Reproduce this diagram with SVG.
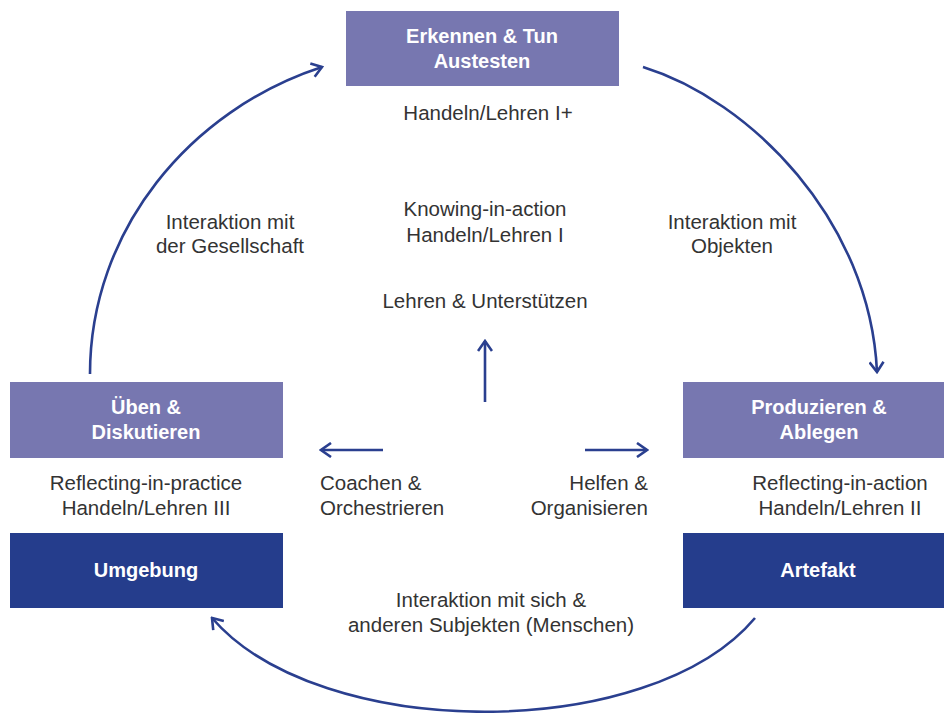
<svg xmlns="http://www.w3.org/2000/svg" width="944" height="713" viewBox="0 0 944 713">
<style>
.lp{fill:#7777b0}
.dk{fill:#253d8c}
.bt{font-family:"Liberation Sans",Arial,sans-serif;font-size:20px;fill:#fff;text-anchor:middle;font-weight:bold}
.t{font-family:"Liberation Sans",Arial,sans-serif;font-size:20.5px;fill:#333;text-anchor:middle}
.c{fill:none;stroke:#2a3f8f;stroke-width:2.6;marker-end:url(#ah)}
</style>
<defs>
<marker id="ah" viewBox="-12 -8 14 16" refX="0" refY="0" markerWidth="14" markerHeight="16" markerUnits="userSpaceOnUse" orient="auto">
<path d="M-10,-7 L0,0 L-10,7" fill="none" stroke="#2a3f8f" stroke-width="2.6"/>
</marker>
</defs>
<g id="connectors">
<path class="c" d="M90,374 C90,230 190,110 322,67"/>
<path class="c" d="M643,67 C750,100 870,220 877,372"/>
<path class="c" d="M755,618 C650,743 320,743 212,618"/>
<path class="c" d="M485,402 L485,341"/>
<path class="c" d="M383,450 L321,450"/>
<path class="c" d="M585,450 L647,450"/>
</g>
<g id="top">
<rect class="lp" x="346" y="11" width="273" height="75"/>
<text class="bt" x="482" y="43">Erkennen &amp; Tun</text>
<text class="bt" x="482" y="68">Austesten</text>
<text class="t" x="488" y="120">Handeln/Lehren I+</text>
</g>
<g id="center">
<text class="t" x="485" y="216">Knowing-in-action</text>
<text class="t" x="485" y="242">Handeln/Lehren I</text>
<text class="t" x="485" y="308">Lehren &amp; Unterstützen</text>
</g>
<g id="left">
<rect class="lp" x="10" y="382" width="273" height="76"/>
<text class="bt" x="146" y="414">Üben &amp;</text>
<text class="bt" x="146" y="439">Diskutieren</text>
<text class="t" x="146" y="490">Reflecting-in-practice</text>
<text class="t" x="146" y="515">Handeln/Lehren III</text>
</g>
<g id="umgebung">
<rect class="dk" x="10" y="533" width="273" height="75"/>
<text class="bt" x="146" y="577">Umgebung</text>
</g>
<g id="right">
<rect class="lp" x="683" y="382" width="261" height="76"/>
<text class="bt" x="819" y="414">Produzieren &amp;</text>
<text class="bt" x="819" y="439">Ablegen</text>
<text class="t" x="840" y="490">Reflecting-in-action</text>
<text class="t" x="840" y="515">Handeln/Lehren II</text>
</g>
<g id="artefakt">
<rect class="dk" x="683" y="533" width="261" height="75"/>
<text class="bt" x="818" y="577">Artefakt</text>
</g>
<g id="labels">
<text class="t" x="230" y="229">Interaktion mit</text>
<text class="t" x="230" y="253">der Gesellschaft</text>
<text class="t" x="732" y="229">Interaktion mit</text>
<text class="t" x="732" y="253">Objekten</text>
<text class="t" x="320" y="490" style="text-anchor:start">Coachen &amp;</text>
<text class="t" x="320" y="515" style="text-anchor:start">Orchestrieren</text>
<text class="t" x="648" y="490" style="text-anchor:end">Helfen &amp;</text>
<text class="t" x="648" y="515" style="text-anchor:end">Organisieren</text>
<text class="t" x="491" y="607">Interaktion mit sich &amp;</text>
<text class="t" x="491" y="632">anderen Subjekten (Menschen)</text>
</g>
</svg>
